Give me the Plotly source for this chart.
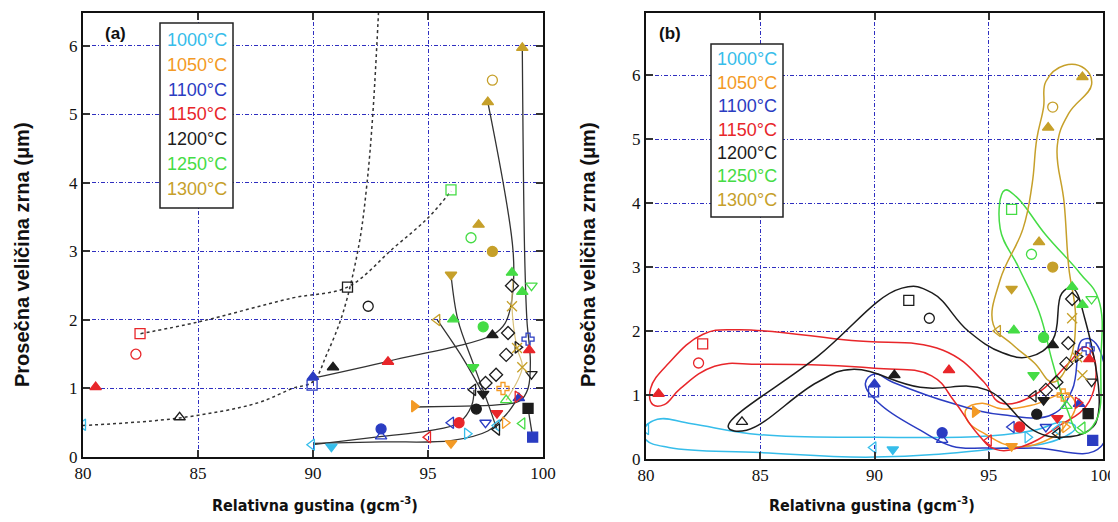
import plotly.graph_objects as go

# ---------------- data ----------------
temps = ["1000°C", "1050°C", "1100°C", "1150°C", "1200°C", "1250°C", "1300°C"]
colors = ["#36BDEA", "#F39A25", "#2A3CC2", "#E8262A", "#1C1C1C", "#45DC45", "#C6A02A"]

t1000_x = [80.0, 89.95, 90.8, 96.7, 98.0]
t1000_y = [0.47, 0.18, 0.15, 0.34, 0.46]
t1000_s = ["triangle-left-open", "triangle-left-open", "triangle-down", "triangle-right-open", "triangle-left-open"]

t1050_x = [94.4, 96.0, 98.26, 98.35]
t1050_y = [0.74, 0.20, 1.00, 0.50]
t1050_s = ["triangle-right", "triangle-down", "cross-open", "triangle-right-open"]

t1100_x = [90.0, 89.96, 92.96, 92.96, 96.0, 97.5, 98.95, 99.35, 99.55]
t1100_y = [1.17, 1.05, 0.41, 0.30, 0.50, 0.50, 0.86, 1.72, 0.29]
t1100_s = ["triangle-up", "square-open", "circle", "triangle-up-open", "triangle-left-open",
           "triangle-down-open", "triangle-up", "cross-open", "square"]

t1150_x = [82.48, 82.3, 80.55, 93.26, 96.35, 98.0, 95.0, 99.4, 98.9]
t1150_y = [1.80, 1.50, 1.02, 1.39, 0.50, 0.64, 0.29, 1.56, 0.88]
t1150_s = ["square-open", "circle-open", "triangle-up", "triangle-up", "circle", "triangle-down",
           "triangle-left-open", "triangle-up", "triangle-right-open"]

t1200_x = [84.2, 91.5, 92.4, 90.87, 97.8, 98.48, 98.4, 97.96, 97.5, 98.65, 96.96, 97.4, 97.1, 99.35, 99.5, 98.0, 98.9]
t1200_y = [0.58, 2.48, 2.20, 1.31, 1.78, 1.81, 1.49, 1.20, 1.08, 2.50, 0.98, 0.92, 0.70, 0.71, 1.21, 0.40, 1.60]
t1200_s = ["triangle-up-open", "square-open", "circle-open", "triangle-up", "triangle-up", "diamond-open",
           "diamond-open", "diamond-open", "diamond-open", "diamond-open", "triangle-left-open",
           "triangle-down", "circle", "square", "triangle-down-open", "triangle-left-open", "triangle-right-open"]

t1250_x = [96.0, 96.87, 97.4, 96.1, 96.96, 98.65, 99.1, 99.5, 98.4, 99.1]
t1250_y = [3.90, 3.20, 1.90, 2.01, 1.31, 2.69, 2.41, 2.50, 0.83, 0.49]
t1250_s = ["square-open", "circle-open", "circle", "triangle-up", "triangle-down", "triangle-up",
           "triangle-up", "triangle-down-open", "triangle-up-open", "triangle-left-open"]

t1300_x = [99.1, 97.8, 97.6, 97.2, 97.8, 96.0, 95.4, 98.65, 98.87, 99.1]
t1300_y = [5.97, 5.50, 5.18, 3.39, 3.00, 2.66, 2.00, 2.20, 1.59, 1.31]
t1300_s = ["triangle-up", "circle-open", "triangle-up", "triangle-up", "circle", "triangle-down",
           "triangle-left-open", "x-thin-open", "x-thin-open", "x-thin-open"]

series = [
    (t1000_x, t1000_y, t1000_s), (t1050_x, t1050_y, t1050_s), (t1100_x, t1100_y, t1100_s),
    (t1150_x, t1150_y, t1150_s), (t1200_x, t1200_y, t1200_s), (t1250_x, t1250_y, t1250_s),
    (t1300_x, t1300_y, t1300_s),
]

# panel (a) guide curves
solid_a_x = [90.0, 93.3, 97.8, 98.35, 98.65, 98.7, 97.6]
solid_a_y = [1.15, 1.40, 1.78, 1.95, 2.3, 3.0, 5.18]
solid_b_x = [99.1, 99.2, 99.3, 99.45, 99.35, 99.0, 98.0, 96.0, 94.4]
solid_b_y = [5.97, 3.0, 2.0, 1.4, 1.0, 0.82, 0.76, 0.74, 0.73]
solid_c_x = [96.0, 96.3, 96.96, 97.6, 98.0]
solid_c_y = [2.66, 2.0, 1.37, 0.79, 0.40]
solid_d_x = [95.4, 96.5, 97.4]
solid_d_y = [2.00, 1.45, 0.92]
solid_e_x = [90.0, 93.0, 95.0, 96.35, 96.9, 97.0]
solid_e_y = [0.18, 0.30, 0.38, 0.50, 0.75, 0.98]
solid_f_x = [90.0, 93.0, 96.0, 97.6, 98.4, 98.9]
solid_f_y = [0.20, 0.22, 0.24, 0.38, 0.62, 0.86]
solid_g_x = [99.35, 99.55]
solid_g_y = [0.71, 0.29]
gold_x = [98.4, 99.1, 98.87, 98.65, 98.7]
gold_y = [0.83, 1.31, 1.59, 2.20, 2.6]
dot1_x = [80.0, 84.2, 87.6, 89.1, 90.0, 90.6, 91.3, 92.0, 92.35, 92.6, 92.85]
dot1_y = [0.46, 0.57, 0.79, 1.0, 1.1, 1.5, 2.1, 3.1, 4.0, 5.0, 6.5]
dot2_x = [82.5, 85.0, 89.1, 91.5, 93.5, 95.0, 96.0]
dot2_y = [1.80, 1.97, 2.32, 2.48, 3.05, 3.49, 3.88]

# panel (b) enclosing contours (one per temperature)
c1000_x = [79.9, 80.5, 82, 85, 90, 95, 97, 98.3, 98.8, 98, 95, 90, 85, 81, 80, 79.9]
c1000_y = [0.45, 0.62, 0.55, 0.38, 0.34, 0.36, 0.45, 0.58, 0.5, 0.3, 0.15, 0.03, 0.1, 0.18, 0.3, 0.45]
c1050_x = [94.0, 94.7, 95.6, 97.0, 98.4, 98.8, 98.3, 97.8, 96.2, 94.8, 94.1, 94.0]
c1050_y = [0.77, 0.87, 0.78, 0.85, 1.02, 0.85, 0.5, 0.34, 0.19, 0.4, 0.58, 0.77]
c1100_x = [89.6, 90.0, 90.8, 93.4, 95.6, 97.8, 98.65, 99.1, 99.7, 99.9, 97.0, 94.9, 93.4, 92.0, 90.2, 89.6]
c1100_y = [1.18, 1.33, 1.2, 0.87, 0.69, 0.7, 1.08, 1.86, 1.8, 0.19, 0.17, 0.17, 0.2, 0.45, 0.87, 1.18]
c1150_x = [80.3, 80.2, 81, 82.5, 84, 89, 93, 94.8, 95.5, 97, 98.5, 99.2, 99.6, 99.4, 98, 96.5,
           95.3, 94.5, 93.5, 92.5, 90, 85, 83, 81.5, 80.8, 80.3]
c1150_y = [0.85, 1.1, 1.5, 1.95, 2.02, 1.85, 1.7, 1.2, 0.88, 1.0, 1.5, 1.75, 1.6, 0.9, 0.5, 0.2,
           0.15, 0.4, 0.9, 1.3, 1.42, 1.48, 1.45, 1.1, 0.85, 0.85]
c1200_x = [83.6, 87.5, 91.2, 92.5, 94.1, 95.6, 96.8, 97.8, 98.2, 98.65, 99.2, 99.8, 99.4, 98.2,
           97.0, 94.9, 92.0, 89.0, 87.5, 84.4, 83.6]
c1200_y = [0.5, 1.6, 2.67, 2.6, 2.0, 1.66, 1.6, 1.86, 2.59, 2.67, 2.2, 0.72, 0.45, 0.34,
           0.44, 1.08, 1.12, 1.4, 1.2, 0.45, 0.5]
c1250_x = [95.7, 96.2, 97.5, 99.0, 99.8, 99.9, 99.7, 99.0, 98.4, 97.8, 97.2, 96.3, 95.5, 95.7]
c1250_y = [4.2, 4.1, 3.5, 2.9, 2.5, 1.5, 0.6, 0.4, 0.8, 1.5, 2.3, 3.0, 3.6, 4.2]
c1300_x = [97.5, 98.3, 99.2, 99.5, 98.5, 98.0, 98.3, 98.5, 98.8, 98.5, 97.8, 97.0, 96.0, 95.2,
           95.5, 96.5, 96.9, 97.1, 97.4, 97.5]
c1300_y = [5.9, 6.15, 6.1, 5.85, 5.4, 4.9, 4.0, 3.0, 2.2, 1.5, 1.2, 1.5, 1.8, 2.1,
           2.8, 3.6, 4.3, 5.0, 5.5, 5.9]
contours = [(c1000_x, c1000_y), (c1050_x, c1050_y), (c1100_x, c1100_y), (c1150_x, c1150_y),
            (c1200_x, c1200_y), (c1250_x, c1250_y), (c1300_x, c1300_y)]

x_ticks = [80, 85, 90, 95, 100]
y_ticks = [0, 1, 2, 3, 4, 5, 6]

# ---------------- figure ----------------
fig = go.Figure()

# panel (a) lines
for xs, ys in [(solid_a_x, solid_a_y), (solid_b_x, solid_b_y), (solid_c_x, solid_c_y),
               (solid_d_x, solid_d_y), (solid_e_x, solid_e_y), (solid_f_x, solid_f_y),
               (solid_g_x, solid_g_y)]:
    fig.add_trace(go.Scatter(x=xs, y=ys, mode="lines", line=dict(color="#333333", width=1.3, shape="spline"),
                             xaxis="x", yaxis="y", showlegend=False, hoverinfo="skip"))
fig.add_trace(go.Scatter(x=gold_x, y=gold_y, mode="lines", line=dict(color="#D8C07A", width=1.2, shape="spline"),
                         xaxis="x", yaxis="y", showlegend=False, hoverinfo="skip"))
for xs, ys in [(dot1_x, dot1_y), (dot2_x, dot2_y)]:
    fig.add_trace(go.Scatter(x=xs, y=ys, mode="lines", line=dict(color="#333333", width=1.5, dash="dot", shape="spline"),
                             xaxis="x", yaxis="y", showlegend=False, hoverinfo="skip"))

# panel (b) contours
for (xs, ys), col in zip(contours, colors):
    fig.add_trace(go.Scatter(x=xs, y=ys, mode="lines", line=dict(color=col, width=1.5, shape="spline", smoothing=1.2),
                             xaxis="x2", yaxis="y2", showlegend=False, hoverinfo="skip"))

# markers on both panels
for (xs, ys, ss), col, name in zip(series, colors, temps):
    for xa, ya in [("x", "y"), ("x2", "y2")]:
        fig.add_trace(go.Scatter(x=xs, y=ys, mode="markers", name=name,
                                 marker=dict(symbol=ss, color=col, size=10, line=dict(color=col, width=1.3)),
                                 xaxis=xa, yaxis=ya, showlegend=False))

# the page body adds an 8px offset; lay out in window pixels and shift
OFF = 8
W, H = 1118 - OFF, 522 - OFF
def px(v):
    return (v - OFF) / W
def py(v):
    return 1 - (v - OFF) / H

grid = dict(showgrid=True, gridcolor="#2F2FC0", gridwidth=1, griddash="4px,2px,1px,2px",
            showline=True, linecolor="#111111", linewidth=2, mirror="ticks", automargin=False,
            ticks="inside", ticklen=7, tickwidth=2, tickcolor="#333333", zeroline=False,
            tickfont=dict(family="Liberation Serif, Times New Roman, serif", size=17, color="#111111"))

fig.update_layout(
    width=W, height=H, margin=dict(l=0, r=0, t=0, b=0, pad=0, autoexpand=False),
    showlegend=False,
    paper_bgcolor="white", plot_bgcolor="white",
    xaxis=dict(domain=[px(83), px(543)], range=[80, 100], tickvals=x_ticks, anchor="y", **grid),
    yaxis=dict(domain=[py(457), py(13)], range=[0, 6.48], tickvals=y_ticks, anchor="x", **grid),
    xaxis2=dict(domain=[px(646), px(1103)], range=[80, 100], tickvals=x_ticks, anchor="y2", **grid),
    yaxis2=dict(domain=[py(459), py(13)], range=[0, 6.97], tickvals=y_ticks, anchor="x2", **grid),
)

ytitle_font = dict(family="Liberation Sans, Arial, sans-serif", size=20, color="#111111")
xtitle_font = dict(family="DejaVu Sans Condensed, Liberation Sans, Arial, sans-serif", size=16, color="#111111")
ann = []
for xc, xt in [(22, 315), (588, 872)]:
    ann.append(dict(x=px(xc), y=py(255), xref="paper", yref="paper", xanchor="center", yanchor="middle",
                    text="<b>Prosečna veličina zrna (μm)</b>",
                    textangle=-90, showarrow=False, font=ytitle_font))
    ann.append(dict(x=px(xt), y=py(504), xref="paper", yref="paper", xanchor="center", yanchor="middle",
                    text="<b>Relativna gustina (gcm<sup>-3</sup>)</b>",
                    showarrow=False, font=xtitle_font))
ann.append(dict(x=px(115), y=py(33), xref="paper", yref="paper", xanchor="center", yanchor="middle",
                text="<b>(a)</b>", showarrow=False,
                font=dict(family="Liberation Sans, Arial", size=17, color="#111111")))
ann.append(dict(x=px(670), y=py(33), xref="paper", yref="paper", xanchor="center", yanchor="middle",
                text="<b>(b)</b>", showarrow=False,
                font=dict(family="Liberation Sans, Arial", size=17, color="#111111")))

legend_font = "Liberation Sans, Arial"
shapes = []
for (bx0, bx1, by0, by1, tx, ty0, dy) in [(160, 233, 23, 208, 197, 40, 24.8), (711, 783, 44, 217, 747, 59, 23.5)]:
    shapes.append(dict(type="rect", xref="paper", yref="paper", x0=px(bx0), x1=px(bx1), y0=py(by1), y1=py(by0),
                       line=dict(color="#222222", width=1.5), fillcolor="white", layer="above"))
    for i, (t, c) in enumerate(zip(temps, colors)):
        ann.append(dict(x=px(tx), y=py(ty0 + i * dy), xref="paper", yref="paper", xanchor="center",
                        yanchor="middle", text=t, showarrow=False,
                        font=dict(family=legend_font, size=18, color=c)))

fig.update_layout(annotations=ann, shapes=shapes)
fig.write_html("out.html")
